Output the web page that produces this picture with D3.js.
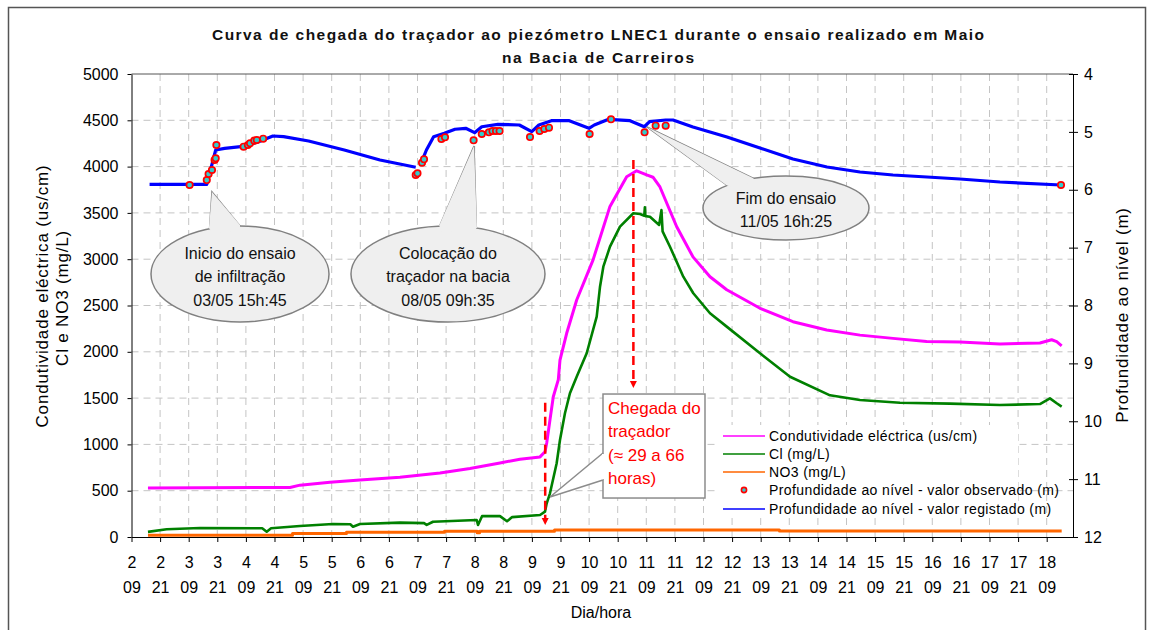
<!DOCTYPE html>
<html>
<head>
<meta charset="utf-8">
<script src="https://cdn.jsdelivr.net/npm/d3@7"></script>
<style>
body { margin: 0; background: #fff; }
text { font-family: Arial, 'Liberation Sans', sans-serif; }
</style>
</head>
<body>
<svg width="1151" height="630"></svg>
<script>
// tempo em dias de Maio (decimal), 2.375 = 02/05 09h00
condT = [2.663, 5.146, 5.32, 5.845, 6.369, 7.068, 7.768, 8.293, 8.817, 9.166, 9.517, 9.604, 9.634, 9.691, 9.749, 9.837, 9.866, 9.983, 10.158, 10.443, 10.74, 11.032, 11.207, 11.382, 11.492, 11.614, 11.907, 12.191, 12.489, 12.781, 13.363, 13.939, 14.529, 15.111, 15.688, 16.277, 16.859, 17.558, 18.257, 18.462, 18.55, 18.637]
condV = [530, 535, 560, 590, 615, 645, 690, 740, 800, 840, 865, 920, 1015, 1265, 1515, 1700, 1910, 2200, 2560, 2990, 3570, 3890, 3955, 3910, 3885, 3780, 3350, 3025, 2810, 2670, 2470, 2325, 2235, 2180, 2145, 2110, 2105, 2085, 2095, 2130, 2110, 2065]

clT = [2.663, 2.99, 3.573, 4.66, 4.739, 4.815, 5.32, 5.898, 6.2, 6.247, 6.37, 7.068, 7.49, 7.536, 7.646, 8.41, 8.433, 8.503, 8.817, 8.94, 9.03, 9.517, 9.604, 9.634, 9.691, 9.808, 9.866, 9.953, 10.04, 10.158, 10.333, 10.508, 10.566, 10.624, 10.74, 10.915, 11.148, 11.265, 11.34, 11.35, 11.36, 11.439, 11.6, 11.64, 11.66, 11.789, 12.022, 12.197, 12.489, 12.781, 13.363, 13.888, 14.587, 15.111, 15.81, 16.685, 17.558, 18.257, 18.432, 18.55, 18.637]
clV = [55, 83, 97, 95, 57, 94, 119, 140, 138, 111, 140, 155, 150, 130, 165, 184, 130, 225, 225, 170, 215, 238, 274, 364, 472, 796, 1048, 1336, 1552, 1731, 1984, 2380, 2703, 2919, 3135, 3351, 3496, 3488, 3470, 3560, 3465, 3459, 3370, 3530, 3300, 3135, 2811, 2632, 2416, 2272, 1984, 1731, 1530, 1480, 1450, 1440, 1425, 1436, 1497, 1444, 1408]

no3T = [2.663, 5.19, 6.133, 7.847, 8.42, 8.46, 9.77, 13.703, 18.637]
no3V = [20, 38, 50, 63, 45, 63, 76, 65, 65]

// profundidade ao nivel (m), registo continuo (null = interrupcao)
profRegT = [2.691, 3.691, 3.847, 4.003, 4.284, 4.41, 4.597, 4.847, 5.034, 5.471, 6.095, 6.719, 7.344, 7.39, 7.436, 7.531, 7.657, 7.844, 8.031, 8.218, 8.373, 8.499, 8.781, 9.155, 9.373, 9.497, 9.716, 10.029, 10.373, 10.466, 10.716, 11.09, 11.34, 11.433, 11.714, 11.842, 12.191, 12.786, 13.363, 13.939, 14.534, 15.111, 15.688, 16.282, 16.859, 17.558, 18.625]
profRegV = [5.906, 5.906, 5.313, 5.284, 5.256, 5.227, 5.17, 5.071, 5.083, 5.158, 5.313, 5.486, 5.612, null, 5.543, 5.313, 5.083, 5.025, 4.955, 4.938, 5.014, 4.911, 4.869, 4.881, 4.997, 4.881, 4.807, 4.807, 4.938, 4.881, 4.783, 4.807, 4.911, 4.824, 4.795, 4.795, 4.916, 5.089, 5.279, 5.469, 5.607, 5.693, 5.745, 5.78, 5.814, 5.866, 5.918]

profObsT = [3.391, 3.691, 3.723, 3.782, 3.828, 3.847, 3.859, 4.335, 4.41, 4.447, 4.522, 4.566, 4.677, 7.344, 7.375, 7.454, 7.489, 7.793, 7.856, 8.356, 8.499, 8.623, 8.686, 8.747, 8.81, 9.342, 9.51, 9.592, 9.674, 10.384, 10.758, 11.345, 11.539, 11.714, 18.625]
profObsV = [5.918, 5.832, 5.728, 5.659, 5.486, 5.457, 5.227, 5.256, 5.227, 5.197, 5.152, 5.14, 5.118, 5.745, 5.716, 5.533, 5.474, 5.123, 5.094, 5.146, 5.037, 5.007, 4.985, 4.985, 4.985, 5.089, 4.985, 4.95, 4.928, 5.037, 4.783, 5.007, 4.893, 4.893, 5.918]

yTicksL = [0, 500, 1000, 1500, 2000, 2500, 3000, 3500, 4000, 4500, 5000]
yTicksR = [4, 5, 6, 7, 8, 9, 10, 11, 12]
xTickDays = d3.range(2.375, 18.4, 0.5)

legendNames = ['Condutividade eléctrica (us/cm)', 'Cl (mg/L)', 'NO3 (mg/L)', 'Profundidade ao nível - valor observado (m)', 'Profundidade ao nível - valor registado (m)']
legendColors = ['#ff00ff', '#008000', '#ff6600', '#ff0000', '#0000ff']

// instantes: colocacao 08/05 09h35, chegada +29h, maximo +66h
tColoc = 8 + 9.583 / 24
tChegada = tColoc + 29 / 24
tMax = tColoc + 66 / 24

let svg = d3.select('svg')
m = {l: 131.5, r: 1073, t: 74, b: 537}

x = d3.scaleLinear().domain([2.375, 18.835]).range([m.l, m.r])
yL = d3.scaleLinear().domain([0, 5000]).range([m.b, m.t])
yR = d3.scaleLinear().domain([4, 12]).range([m.t, m.b])

// moldura
svg.append('rect').attr('x', 8.5).attr('y', 7.5).attr('width', 1137).attr('height', 650)
    .attr('fill', '#fff').attr('stroke', '#555').attr('stroke-width', 1.5)

// titulo
title = svg.append('text').attr('text-anchor', 'middle').attr('font-weight', 'bold').attr('font-size', 15.5).attr('fill', '#111')
title.append('tspan').attr('x', 598).attr('y', 40).attr('textLength', 772).attr('lengthAdjust', 'spacing')
    .text('Curva de chegada do traçador ao piezómetro LNEC1 durante o ensaio realizado em Maio')
title.append('tspan').attr('x', 598).attr('y', 63).attr('textLength', 192).attr('lengthAdjust', 'spacing')
    .text('na Bacia de Carreiros')

// grelha
grid = svg.append('g').attr('stroke', '#c4c4c4').attr('stroke-dasharray', '7,5')
grid.selectAll('.gh').data(yTicksL.filter(v => v > 0 && v < 5000)).enter().append('line')
    .attr('x1', m.l).attr('x2', m.r).attr('y1', d => yL(d)).attr('y2', d => yL(d))
grid.selectAll('.gv').data(xTickDays.slice(1)).enter().append('line')
    .attr('y1', m.t).attr('y2', m.b).attr('x1', d => x(d)).attr('x2', d => x(d))
svg.append('line').attr('x1', m.l).attr('x2', m.r).attr('y1', m.t).attr('y2', m.t).attr('stroke', '#555')

// eixos
axL = svg.append('g').attr('transform', `translate(${m.l},0)`)
    .call(d3.axisLeft(yL).tickValues(yTicksL).tickSize(4).tickSizeOuter(0).tickPadding(9).tickFormat(d3.format('d')))
axR = svg.append('g').attr('transform', `translate(${m.r},0)`)
    .call(d3.axisRight(yR).tickValues(yTicksR).tickSize(5).tickSizeOuter(0).tickPadding(6))
axR.selectAll('.tick line').attr('x1', -4)
axX = svg.append('g').attr('transform', `translate(0,${m.b})`)
    .call(d3.axisBottom(x).tickValues(xTickDays).tickSize(5).tickSizeOuter(0).tickFormat(''))
axX.selectAll('.tick').append('text').attr('fill', '#000')
    .each(function (d) {
        let t = d3.select(this)
        t.append('tspan').attr('x', 0).attr('y', 31).text(Math.floor(d))
        t.append('tspan').attr('x', 0).attr('y', 56).text(String(Math.round((d % 1) * 24)).padStart(2, '0'))
    })
;[axL, axR, axX].forEach(a => {
    a.attr('font-size', 16).attr('font-family', null)
    a.selectAll('line, path').attr('stroke', '#000')
    a.selectAll('text').attr('fill', '#000')
})

// titulos dos eixos
svg.append('text').attr('transform', 'translate(42,296) rotate(-90)').attr('text-anchor', 'middle')
    .attr('font-size', 17).attr('letter-spacing', 0.8).attr('dy', '0.35em').text('Condutividade eléctrica (us/cm)')
svg.append('text').attr('transform', 'translate(62,298) rotate(-90)').attr('text-anchor', 'middle')
    .attr('font-size', 17).attr('letter-spacing', 0.8).attr('dy', '0.35em').text('Cl e NO3 (mg/L)')
svg.append('text').attr('transform', 'translate(1122,315) rotate(-90)').attr('text-anchor', 'middle')
    .attr('font-size', 17).attr('letter-spacing', 0.8).attr('dy', '0.35em').text('Profundidade ao nível (m)')
svg.append('text').attr('x', 601).attr('y', 618).attr('text-anchor', 'middle').attr('font-size', 16).text('Dia/hora')

// series
lineL = d3.line().x(d => x(d[0])).y(d => yL(d[1]))
lineR = d3.line().defined(d => d[1] != null).x(d => x(d[0])).y(d => yR(d[1]))

series = svg.append('g').attr('fill', 'none').attr('stroke-linejoin', 'round')
series.append('path').attr('d', lineL(d3.zip(condT, condV))).attr('stroke', '#ff00ff').attr('stroke-width', 3)
series.append('path').attr('d', lineL(d3.zip(clT, clV))).attr('stroke', '#008000').attr('stroke-width', 2.6)
series.append('path').attr('d', lineL.curve(d3.curveStepAfter)(d3.zip(no3T, no3V))).attr('stroke', '#ff6600').attr('stroke-width', 3)
series.append('path').attr('d', lineR(d3.zip(profRegT, profRegV))).attr('stroke', '#0000ff').attr('stroke-width', 3.2)
svg.append('g').selectAll('circle').data(d3.zip(profObsT, profObsV)).enter().append('circle')
    .attr('cx', d => x(d[0])).attr('cy', d => yR(d[1])).attr('r', 3.2)
    .attr('fill', '#33cccc').attr('stroke', '#ff0000').attr('stroke-width', 1.7)

// setas tracejadas (chegada e maximo)
function dashArrow(t, v0, v1) {
    let xx = x(t)
    svg.append('line').attr('x1', xx).attr('x2', xx).attr('y1', yL(v0)).attr('y2', yL(v1) - 6)
        .attr('stroke', '#ff0000').attr('stroke-width', 2.5).attr('stroke-dasharray', '9,5')
    svg.append('path').attr('d', `M${xx - 3.5},${yL(v1) - 7}L${xx + 3.5},${yL(v1) - 7}L${xx},${yL(v1)}Z`).attr('fill', '#ff0000')
}
dashArrow(tChegada, 1450, 130)
dashArrow(tMax, 4070, 1610)

// legenda
leg = svg.append('g')
leg.append('rect').attr('x', 718).attr('y', 425).attr('width', 300).attr('height', 93).attr('fill', '#fff')
legendNames.forEach((n, i) => {
    let yy = [436, 454, 472, 490, 509][i]
    if (i == 3) leg.append('circle').attr('cx', 744).attr('cy', yy).attr('r', 2.6).attr('fill', '#33cccc').attr('stroke', legendColors[i]).attr('stroke-width', 1.6)
    else leg.append('line').attr('x1', 723).attr('x2', 765).attr('y1', yy).attr('y2', yy).attr('stroke', legendColors[i]).attr('stroke-width', 1.6)
    leg.append('text').attr('x', 769).attr('y', yy).attr('dy', '0.36em').attr('font-size', 14).attr('letter-spacing', 0.4).text(n)
})

// chamadas (posicoes em unidades do grafico)
function ellipseCallout(c) {
    let g = svg.append('g')
    let cx = x(c.day), cy = yL(c.v), tx = x(c.tipDay), ty = yL(c.tipV)
    let p = (a, k) => [cx + k * c.rx * Math.cos(a * Math.PI / 180), cy + k * c.ry * Math.sin(a * Math.PI / 180)]
    g.append('ellipse').attr('cx', cx).attr('cy', cy).attr('rx', c.rx).attr('ry', c.ry)
        .attr('fill', '#efefef').attr('stroke', '#808080').attr('stroke-width', 1.5)
    g.append('path').attr('d', `M${p(c.a1, 1)}L${tx},${ty}L${p(c.a2, 1)}`)
        .attr('fill', '#efefef').attr('stroke', '#808080').attr('stroke-width', 1.5)
    g.append('path').attr('d', `M${p(c.a1, 0.9)}L${p(c.a1, 1.02)}L${tx},${ty}L${p(c.a2, 1.02)}L${p(c.a2, 0.9)}Z`).attr('fill', '#efefef')
    c.lines.forEach((l, i) => {
        g.append('text').attr('x', cx).attr('y', cy + c.dy + i * 23.5).attr('dy', '0.35em')
            .attr('text-anchor', 'middle').attr('font-size', 16).attr('fill', '#111').text(l)
    })
}
ellipseCallout({day: 4.272, v: 2840, rx: 89, ry: 48, tipDay: 3.782, tipV: 3726, a1: -110, a2: -90, dy: -21, lines: ['Inicio do ensaio', 'de infiltração', '03/05 15h:45']})
ellipseCallout({day: 7.908, v: 2840, rx: 97, ry: 48, tipDay: 8.363, tipV: 4223, a1: -95, a2: -73, dy: -21, lines: ['Colocação do', 'traçador na bacia', '08/05 09h:35']})
ellipseCallout({day: 13.817, v: 3553, rx: 83, ry: 32, tipDay: 11.387, tipV: 4428, a1: -135, a2: -113, dy: -10, lines: ['Fim do ensaio', '11/05 16h:25']})

// caixa "Chegada do traçador"
box = svg.append('g')
bx = x(10.618), by = yL(1544)
box.append('rect').attr('x', bx).attr('y', by).attr('width', 102).attr('height', 104)
    .attr('fill', '#fff').attr('stroke', '#8c8c8c').attr('stroke-width', 1.5)
box.append('path').attr('d', `M${bx},${by + 59}L${x(9.692)},${yL(432)}L${bx},${by + 86}`)
    .attr('fill', '#fff').attr('stroke', '#8c8c8c').attr('stroke-width', 1.5)
box.append('rect').attr('x', bx - 1).attr('y', by + 60).attr('width', 4).attr('height', 25).attr('fill', '#fff')
;['Chegada do', 'traçador', '(≈ 29 a 66', 'horas)'].forEach((l, i) => {
    box.append('text').attr('x', bx + 5).attr('y', by + 14 + i * 23.5).attr('dy', '0.35em')
        .attr('font-size', 17).attr('fill', '#ff0000').text(l)
})
</script>
</body>
</html>
